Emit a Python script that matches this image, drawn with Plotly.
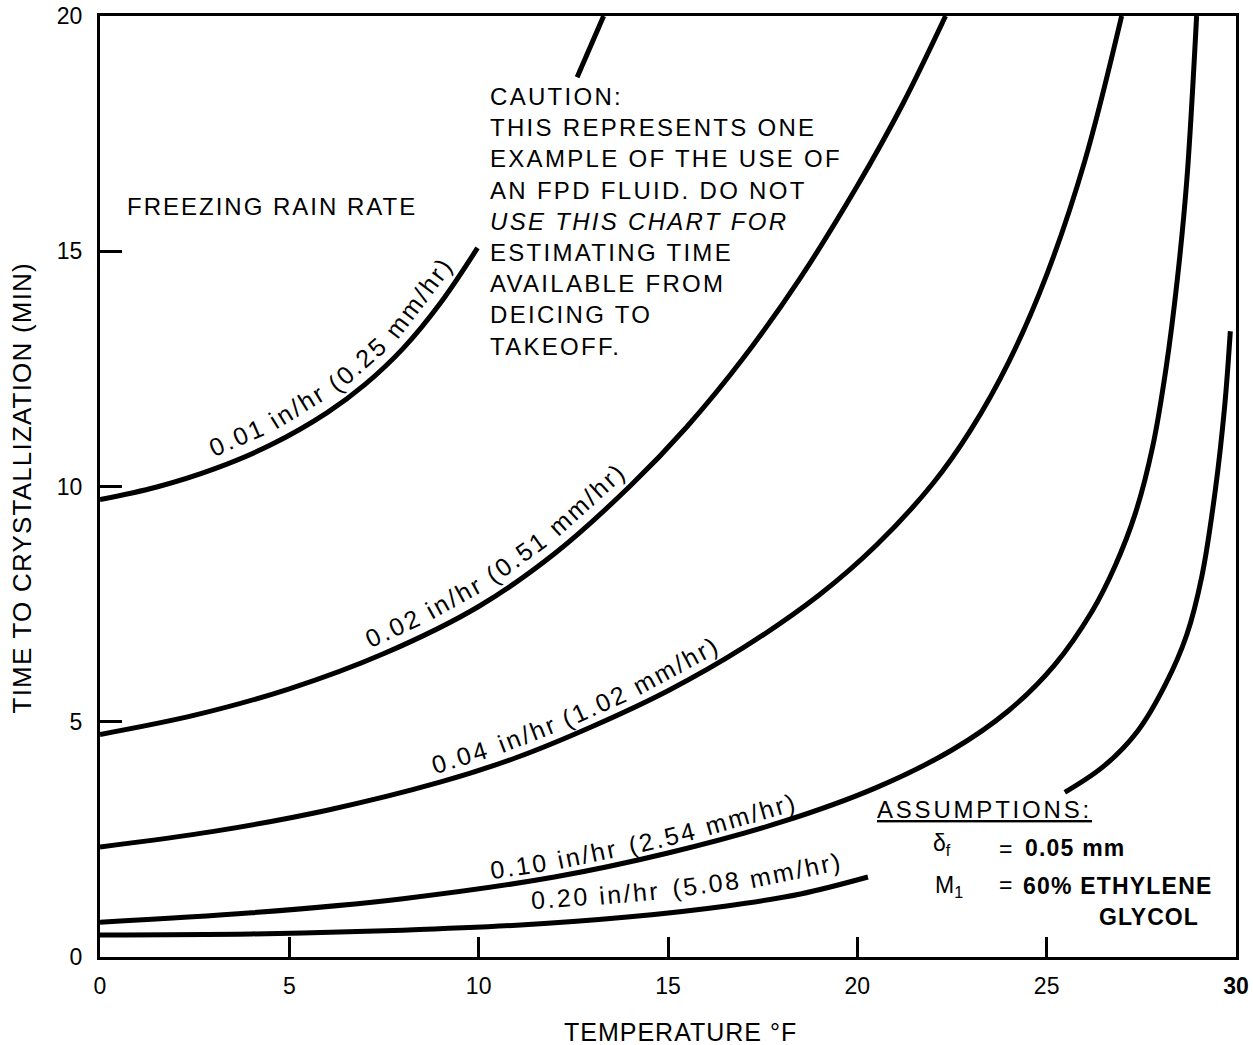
import math
import numpy as np
import plotly.graph_objects as go

# ---------------- data (temperature °F, time min) ----------------
temp_001_lower = [0, 1.5, 3, 4.5, 6, 7, 8, 9, 9.97]
time_001_lower = [9.72, 9.99, 10.37, 10.88, 11.57, 12.17, 12.93, 13.91, 15.07]
temp_001_upper = [12.6, 13.3]
time_001_upper = [18.7, 20.0]

temp_002 = [0, 2.5, 5, 7.5, 10, 12, 14, 15.5, 17, 18.5, 20, 21.2, 22.33]
time_002 = [4.73, 5.14, 5.70, 6.45, 7.45, 8.57, 10.01, 11.27, 12.74, 14.44, 16.39, 18.13, 20.0]

temp_004 = [0, 3, 6, 9, 11, 13, 15, 17, 19, 20.5, 22, 23, 24, 25, 26, 26.98]
time_004 = [2.34, 2.67, 3.12, 3.72, 4.24, 4.90, 5.66, 6.58, 7.70, 8.75, 10.07, 11.21, 12.65, 14.5, 16.9, 20.0]

temp_010 = [0, 4, 8, 12, 15, 18, 20.5, 22.5, 24, 25.2, 26.2, 26.8, 27.35, 27.8, 28.15, 28.45, 28.7, 28.96]
time_010 = [0.74, 0.94, 1.24, 1.70, 2.21, 2.87, 3.6, 4.4, 5.24, 6.2, 7.35, 8.3, 9.45, 10.85, 12.5, 14.4, 16.5, 20.0]

temp_020_lower = [0, 4, 8, 11, 14, 16.5, 18.5, 20.28]
time_020_lower = [0.47, 0.49, 0.57, 0.675, 0.855, 1.08, 1.34, 1.7]
temp_020_upper = [25.48, 26.5, 27.4, 28.14, 28.7, 29.1, 29.45, 29.7, 29.85]
time_020_upper = [3.5, 4.05, 4.8, 5.8, 6.85, 8.1, 9.9, 11.7, 13.3]

# curve labels: words and the temperature where each word sits
label_001_words = ["0.01", "in/hr", "(0.25", "mm/hr)"]
label_001_temp = [3.85, 5.5, 7.15, 8.85]
label_002_words = ["0.02", "in/hr", "(0.51", "mm/hr)"]
label_002_temp = [7.95, 9.6, 11.3, 13.2]
label_004_words = ["0.04", "in/hr", "(1.02", "mm/hr)"]
label_004_temp = [9.65, 11.45, 13.25, 15.45]
label_010_words = ["0.10", "in/hr", "(2.54", "mm/hr)"]
label_010_temp = [11.15, 12.95, 14.95, 17.3]
label_020_words = ["0.20", "in/hr", "(5.08", "mm/hr)"]
label_020_temp = [12.2, 14.05, 16.1, 18.5]

x_tick_vals = [0, 5, 10, 15, 20, 25, 30]
x_tick_text = ["0", "5", "10", "15", "20", "25", "<b>30</b>"]
y_tick_vals = [0, 5, 10, 15, 20]
y_tick_text = ["0", "5", "10", "15", "20"]

caution_lines = ["CAUTION:", "THIS REPRESENTS ONE", "EXAMPLE OF THE USE OF",
                 "AN FPD FLUID. DO NOT", "USE THIS CHART FOR", "ESTIMATING TIME",
                 "AVAILABLE FROM", "DEICING TO", "TAKEOFF."]

# ---------------- layout constants ----------------
FONT = "Liberation Sans, Arial, Helvetica, sans-serif"
W, H = 1253, 1045
M_L, M_R, M_T, M_B = 100, 17, 16, 88
X_MAX, Y_MAX = 30, 20
PPX = (W - M_L - M_R) / X_MAX
PPY = (H - M_T - M_B) / Y_MAX


def sp(text, px):
    return f'<span style="letter-spacing:{px}px">{text}</span>'


fig = go.Figure()

curves = [
    (temp_001_lower, time_001_lower), (temp_001_upper, time_001_upper),
    (temp_002, time_002), (temp_004, time_004), (temp_010, time_010),
    (temp_020_lower, time_020_lower), (temp_020_upper, time_020_upper),
]
for xs, ys in curves:
    fig.add_trace(go.Scatter(
        x=xs, y=ys, mode="lines",
        line=dict(color="black", width=5, shape="spline", smoothing=1.0),
        hoverinfo="skip", showlegend=False))

labels = [
    (label_001_words, label_001_temp, temp_001_lower, time_001_lower, 20),
    (label_002_words, label_002_temp, temp_002, time_002, 19),
    (label_004_words, label_004_temp, temp_004, time_004, 18),
    (label_010_words, label_010_temp, temp_010, time_010, 16),
    (label_020_words, label_020_temp, temp_020_lower, time_020_lower, 24),
]
for words, xs, cx, cy, gap in labels:
    for w, x in zip(words, xs):
        y = float(np.interp(x, cx, cy))
        h = 1.0
        s = (np.interp(x + h, cx, cy) - np.interp(x - h, cx, cy)) / (2 * h)
        a = math.atan(s * PPY / PPX)
        fig.add_annotation(
            x=x, y=y, text=sp(w, 2.5), showarrow=False,
            textangle=-math.degrees(a),
            xshift=-gap * math.sin(a), yshift=gap * math.cos(a),
            font=dict(family=FONT, size=25, color="black"),
            xanchor="center", yanchor="middle")

# free text
fig.add_annotation(x=0.66, y=15.96, text=sp("FREEZING RAIN RATE", 2.0), showarrow=False,
                   xanchor="left", yanchor="middle",
                   font=dict(family=FONT, size=24, color="black"))

caution_html = "<br>".join(
    sp(f"<i>{ln}</i>" if ln.startswith("USE THIS") else ln, 2.3) for ln in caution_lines)
fig.add_annotation(x=10.24, y=15.63, text=caution_html, showarrow=False, align="left",
                   xanchor="left", yanchor="middle",
                   font=dict(family=FONT, size=24, color="black"))

fig.add_annotation(x=20.47, y=3.14, text=sp("<u>ASSUMPTIONS:</u>", 2.8), showarrow=False,
                   xanchor="left", yanchor="middle",
                   font=dict(family=FONT, size=24, color="black"))
fig.add_annotation(x=21.94, y=2.4, text="δ<sub>f</sub>", showarrow=False,
                   xanchor="left", yanchor="middle",
                   font=dict(family=FONT, size=23, color="black"))
fig.add_annotation(x=23.9, y=2.3, text="=", showarrow=False,
                   xanchor="center", yanchor="middle",
                   font=dict(family=FONT, size=23, color="black"))
fig.add_annotation(x=24.37, y=2.32, text=sp("<b>0.05 mm</b>", 1.2), showarrow=False,
                   xanchor="left", yanchor="middle",
                   font=dict(family=FONT, size=23, color="black"))
fig.add_annotation(x=21.99, y=1.49, text="M<sub>1</sub>", showarrow=False,
                   xanchor="left", yanchor="middle",
                   font=dict(family=FONT, size=23, color="black"))
fig.add_annotation(x=23.9, y=1.54, text="=", showarrow=False,
                   xanchor="center", yanchor="middle",
                   font=dict(family=FONT, size=23, color="black"))
fig.add_annotation(x=24.31, y=1.51, text=sp("<b>60% ETHYLENE</b>", 1.2), showarrow=False,
                   xanchor="left", yanchor="middle",
                   font=dict(family=FONT, size=23, color="black"))
fig.add_annotation(x=26.34, y=0.84, text=sp("<b>GLYCOL</b>", 1.0), showarrow=False,
                   xanchor="left", yanchor="middle",
                   font=dict(family=FONT, size=23, color="black"))

# axis titles
fig.add_annotation(xref="paper", yref="paper", x=-0.0687, y=0.499,
                   text=sp("TIME TO CRYSTALLIZATION (MIN)", 1.2), textangle=-90,
                   showarrow=False, xanchor="center", yanchor="middle",
                   font=dict(family=FONT, size=26, color="black"))
fig.add_annotation(xref="paper", yref="paper", x=0.511, y=-0.0796,
                   text=sp("TEMPERATURE °F", 1.0),
                   showarrow=False, xanchor="center", yanchor="middle",
                   font=dict(family=FONT, size=25, color="black"))

axis_common = dict(ticks="inside", tickwidth=2.5, tickcolor="black",
                   showline=True, linewidth=3, linecolor="black", mirror=True,
                   showgrid=False, zeroline=False, automargin=False,
                   tickfont=dict(family=FONT, size=23, color="black"))
fig.update_xaxes(range=[0, X_MAX], tickmode="array", tickvals=x_tick_vals,
                 ticktext=x_tick_text, ticklen=20, ticklabelstandoff=6, **axis_common)
fig.update_yaxes(range=[0, Y_MAX], tickmode="array", tickvals=y_tick_vals,
                 ticktext=y_tick_text, ticklen=22, ticklabelstandoff=10, **axis_common)

fig.update_layout(width=W, height=H,
                  margin=dict(l=M_L, r=M_R, t=M_T, b=M_B, pad=0),
                  plot_bgcolor="white", paper_bgcolor="white",
                  showlegend=False, font=dict(family=FONT, color="black"))

fig.write_html("out.html", config={"displayModeBar": False},
               post_script="document.body.style.margin='0';document.body.style.overflow='hidden';")
